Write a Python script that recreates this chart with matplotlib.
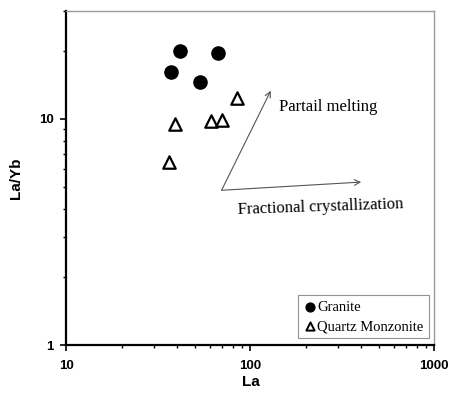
import matplotlib.pyplot as plt
from matplotlib.ticker import LogLocator, NullFormatter, FixedLocator

# Granite
granite_la = [41.6, 66.9, 36.9, 53.2]
granite_layb = [19.9, 19.5, 16.1, 14.6]

# Quartz monzonite
qm_la = [84.1, 39.1, 60.8, 70.1, 36.3]
qm_layb = [12.4, 9.5, 9.8, 9.9, 6.45]

# trend arrows (start, end) in data coords
arrow_start = (69.7, 4.83)
pm_end = (129, 13.3)
fc_end = (400, 5.25)

fig = plt.figure(figsize=(4.52, 3.98), dpi=100)
ax = fig.add_axes([0.147, 0.133, 0.814, 0.84])

ax.scatter(granite_la, granite_layb, s=90, marker='o', color='black', zorder=3)
ax.scatter(qm_la, qm_layb, s=80, marker='^', facecolor='white', edgecolor='black',
           linewidth=1.6, zorder=3)

ax.set_xscale('log')
ax.set_yscale('log')
ax.set_xlim(10, 1000)
ax.set_ylim(1, 30)

ax.xaxis.set_major_locator(FixedLocator([10, 100, 1000]))
ax.yaxis.set_major_locator(FixedLocator([1, 10]))
ax.set_xticklabels(['10', '100', '1000'])
ax.set_yticklabels(['1', '10'])
ax.xaxis.set_minor_locator(LogLocator(base=10, subs=range(2, 10)))
ax.yaxis.set_minor_locator(LogLocator(base=10, subs=range(2, 10)))
ax.xaxis.set_minor_formatter(NullFormatter())
ax.yaxis.set_minor_formatter(NullFormatter())

ax.tick_params(which='major', direction='out', length=4, width=1.2, labelsize=9.5)
ax.tick_params(axis='x', which='major', pad=7)
ax.tick_params(axis='y', which='major', pad=5)
ax.tick_params(which='minor', direction='out', length=2.5, width=1.0)
for lab in ax.get_xticklabels() + ax.get_yticklabels():
    lab.set_fontweight('bold')
    lab.set_family('Liberation Sans')

for s in ['left', 'bottom']:
    ax.spines[s].set_linewidth(1.6)
    ax.spines[s].set_color('black')
for s in ['top', 'right']:
    ax.spines[s].set_linewidth(1.0)
    ax.spines[s].set_color('#999999')

ax.set_xlabel('La', fontsize=11, fontweight='bold', family='Liberation Sans', labelpad=2)
ax.set_ylabel('La/Yb', fontsize=11, fontweight='bold', family='Liberation Sans', labelpad=12)

arrow_kw = dict(arrowstyle='->', color='#555555', lw=0.8, shrinkA=0, shrinkB=0)
ax.annotate('', xy=pm_end, xytext=arrow_start, arrowprops=arrow_kw)
ax.annotate('', xy=fc_end, xytext=arrow_start, arrowprops=arrow_kw)

ax.text(143, 11.3, 'Partail melting', family='Liberation Serif', fontsize=12,
        ha='left', va='center')
ax.text(84.5, 4.07, 'Fractional crystallization', family='Liberation Serif', fontsize=12,
        ha='left', va='center', rotation=2)

h1 = ax.scatter([], [], s=40, marker='o', color='black')
h2 = ax.scatter([], [], s=35, marker='^', facecolor='white', edgecolor='black', linewidth=1.4)
leg = ax.legend([h1, h2], ['Granite', 'Quartz Monzonite'], loc='lower right',
                bbox_to_anchor=(0.985, 0.02), prop={'family': 'Liberation Serif', 'size': 10.5},
                frameon=True, fancybox=False, handletextpad=0.0, handlelength=1.0,
                borderpad=0.35, labelspacing=0.45, borderaxespad=0.0)
leg.get_frame().set_edgecolor('#777777')
leg.get_frame().set_linewidth(0.8)

fig.savefig('out.png', dpi=100)
